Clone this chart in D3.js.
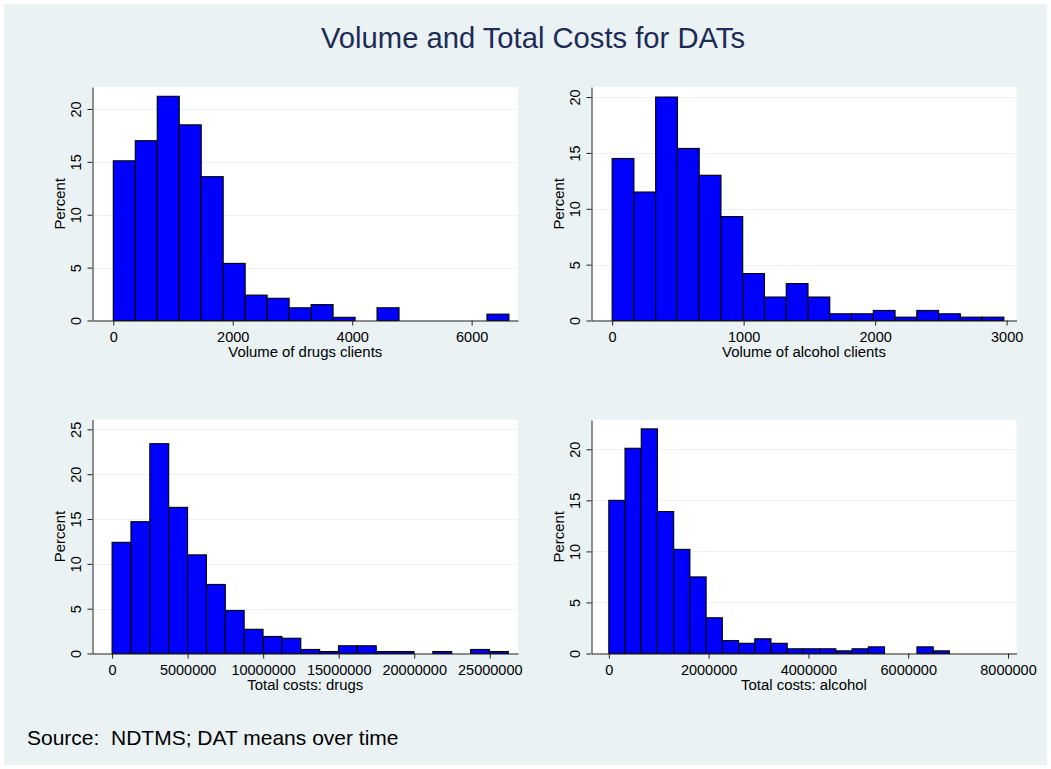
<!DOCTYPE html>
<html>
<head>
<meta charset="utf-8">
<script src="https://cdn.jsdelivr.net/npm/d3@7"></script>
<style>
  body { margin: 0; background: #fff; }
  text { font-family: "Liberation Sans", Arial, Helvetica, sans-serif; }
</style>
</head>
<body>
<svg id="chart" width="1051" height="769"></svg>
<script>
// histogram percentages, one value per bin
const volDrugsPct    = [15.1, 17.0, 21.2, 18.5, 13.6, 5.4, 2.4, 2.1, 1.2, 1.5, 0.3, 0, 1.2, 0, 0, 0, 0, 0.6];
const volAlcoholPct  = [14.5, 11.5, 20.0, 15.4, 13.0, 9.3, 4.2, 2.1, 3.3, 2.1, 0.6, 0.6, 0.9, 0.3, 0.9, 0.6, 0.3, 0.3];
const costDrugsPct   = [12.4, 14.7, 23.4, 16.3, 11.0, 7.7, 4.8, 2.7, 1.9, 1.7, 0.45, 0.22, 0.86, 0.86, 0.22, 0.22, 0, 0.22, 0, 0.45, 0.22];
const costAlcoholPct = [15.0, 20.1, 22.0, 13.9, 10.2, 7.5, 3.5, 1.27, 1.0, 1.44, 1.0, 0.46, 0.46, 0.46, 0.26, 0.46, 0.65, 0, 0, 0.65, 0.26];

// bin start and width for each histogram
const volDrugsBins    = [0, 368];
const volAlcoholBins  = [0, 165.5];
const costDrugsBins   = [0, 1249000];
const costAlcoholBins = [0, 325000];

// tick labels
const volDrugsTicks    = [0, 2000, 4000, 6000];
const volAlcoholTicks  = [0, 1000, 2000, 3000];
const costDrugsTicks   = [0, 5000000, 10000000, 15000000, 20000000, 25000000];
const costAlcoholTicks = [0, 2000000, 4000000, 6000000, 8000000];
const pctTicks20 = [0, 5, 10, 15, 20];
const pctTicks25 = [0, 5, 10, 15, 20, 25];

const titles = ["Volume of drugs clients", "Volume of alcohol clients", "Total costs: drugs", "Total costs: alcohol"];

const svg = d3.select("#chart");
const W = 1051, H = 769;

svg.append("rect").attr("x", 4).attr("y", 4).attr("width", W - 8).attr("height", H - 8)
  .attr("fill", "#eaf2f3");

svg.append("text")
  .attr("x", 533).attr("y", 48)
  .attr("text-anchor", "middle")
  .attr("font-size", 29.2)
  .attr("fill", "#1c2b57")
  .text("Volume and Total Costs for DATs");

svg.append("text")
  .attr("x", 27).attr("y", 745)
  .attr("font-size", 21)
  .attr("fill", "#000")
  .style("white-space", "pre")
  .text("Source:  NDTMS; DAT means over time");

const panels = [
  { pct: volDrugsPct, bins: volDrugsBins, xTicks: volDrugsTicks, yTicks: pctTicks20, title: titles[0],
    xDom: [-348, 6776], yMax: 22.08, box: [92.5, 87, 518, 320.5] },
  { pct: volAlcoholPct, bins: volAlcoholBins, xTicks: volAlcoholTicks, yTicks: pctTicks20, title: titles[1],
    xDom: [-157, 3075], yMax: 20.9, box: [591.5, 87, 1016.5, 320.5] },
  { pct: costDrugsPct, bins: costDrugsBins, xTicks: costDrugsTicks, yTicks: pctTicks25, title: titles[2],
    xDom: [-1297000, 26870000], yMax: 26.1, box: [92.5, 419.5, 518, 653.5] },
  { pct: costAlcoholPct, bins: costAlcoholBins, xTicks: costAlcoholTicks, yTicks: pctTicks20, title: titles[3],
    xDom: [-347000, 8170000], yMax: 22.87, box: [591.5, 420, 1016.5, 653.5] }
];

panels.forEach(function(p) {
  let [left, top, right, bottom] = p.box;
  let g = svg.append("g");

  let x = d3.scaleLinear().domain(p.xDom).range([left, right]);
  let y = d3.scaleLinear().domain([0, p.yMax]).range([bottom, top]);

  g.append("rect")
    .attr("x", left).attr("y", top)
    .attr("width", right - left).attr("height", bottom - top)
    .attr("fill", "#fff");

  // grid lines
  g.selectAll("line.grid")
    .data(p.yTicks.filter(d => d > 0))
    .enter()
    .append("line")
    .attr("class", "grid")
    .attr("x1", left).attr("x2", right)
    .attr("y1", d => Math.round(y(d)) + 0.5)
    .attr("y2", d => Math.round(y(d)) + 0.5)
    .attr("stroke", "#eaf2f3")
    .attr("stroke-width", 1.2);

  let bins = p.pct.map(function(v, i) {
    return { x0: p.bins[0] + i * p.bins[1], x1: p.bins[0] + (i + 1) * p.bins[1], v: v };
  }).filter(d => d.v > 0);

  g.selectAll("rect.bar")
    .data(bins)
    .enter()
    .append("rect")
    .attr("class", "bar")
    .attr("x", d => x(d.x0))
    .attr("width", d => x(d.x1) - x(d.x0))
    .attr("y", d => y(d.v))
    .attr("height", d => y(0) - y(d.v))
    .attr("fill", "#0000ff")
    .attr("stroke", "#000")
    .attr("stroke-width", 1.1);

  let xAxis = d3.axisBottom(x)
    .tickValues(p.xTicks)
    .tickFormat(d3.format("d"))
    .tickSize(5)
    .tickSizeOuter(0)
    .tickPadding(6);

  let gX = g.append("g")
    .attr("transform", "translate(0," + bottom + ")")
    .call(xAxis);
  gX.selectAll("text").attr("font-size", 14.5).attr("fill", "#000");

  let yAxis = d3.axisLeft(y)
    .tickValues(p.yTicks)
    .tickFormat(d3.format("d"))
    .tickSize(5)
    .tickSizeOuter(0);

  let gY = g.append("g")
    .attr("transform", "translate(" + left + ",0)")
    .call(yAxis);
  gY.selectAll("text")
    .attr("x", null).attr("dy", null)
    .attr("transform", "translate(-12,0) rotate(-90)")
    .attr("text-anchor", "middle")
    .attr("font-size", 14.5)
    .attr("fill", "#000");

  [gX, gY].forEach(function(a) {
    a.attr("font-family", null);
    a.selectAll("path, line").attr("stroke", "#222");
  });

  g.append("text")
    .attr("x", (left + right) / 2)
    .attr("y", bottom + 36.5)
    .attr("text-anchor", "middle")
    .attr("font-size", 14.9)
    .text(p.title);

  g.append("text")
    .attr("transform", "translate(" + (left - 27.5) + "," + ((top + bottom) / 2) + ") rotate(-90)")
    .attr("text-anchor", "middle")
    .attr("font-size", 14.9)
    .text("Percent");
});
</script>
</body>
</html>
